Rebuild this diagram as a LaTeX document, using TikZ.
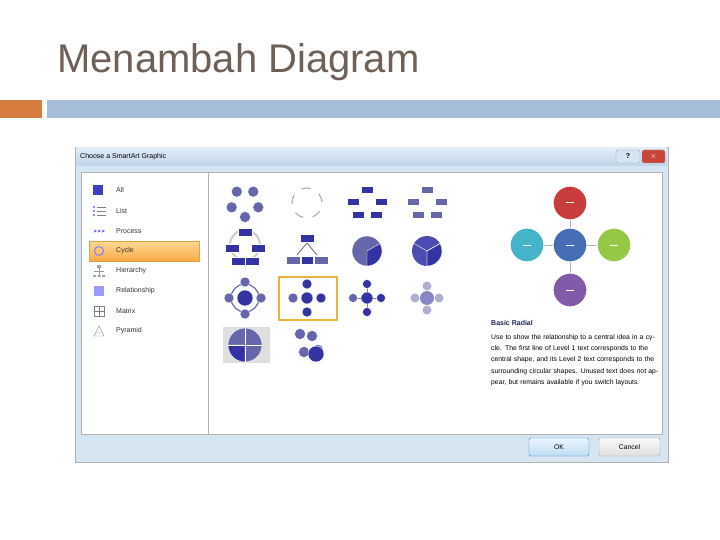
\documentclass[tikz,border=0pt]{standalone}
\usepackage{fontspec}
\setmainfont{Liberation Sans}
\definecolor{ttl}{RGB}{110,96,86}
\definecolor{orng}{RGB}{214,124,62}
\definecolor{bbar}{RGB}{166,190,215}
\definecolor{dlg}{RGB}{214,229,242}
\definecolor{tbtop}{RGB}{225,236,247}
\definecolor{tbbot}{RGB}{190,212,235}
\definecolor{qbtn}{RGB}{215,228,242}
\definecolor{xbtn}{RGB}{200,70,55}
\definecolor{seltop}{RGB}{253,218,150}
\definecolor{selbot}{RGB}{250,170,70}
\definecolor{selbd}{RGB}{230,160,60}
\definecolor{gsel}{RGB}{240,180,60}
\definecolor{cred}{RGB}{200,60,60}
\definecolor{cteal}{RGB}{70,180,200}
\definecolor{cgreen}{RGB}{150,200,70}
\definecolor{cpurp}{RGB}{130,90,170}
\definecolor{cblue}{RGB}{70,110,180}
\definecolor{dhead}{RGB}{30,40,90}
\definecolor{oktop}{RGB}{235,244,252}
\definecolor{okbot}{RGB}{190,220,242}
\definecolor{okbd}{RGB}{60,130,190}
\begin{document}
\begin{tikzpicture}[x=1pt,y=-1pt,
  cat/.style={anchor=west,font=\fontsize{7}{8}\selectfont,text=black!80,inner sep=0},
  desc/.style={anchor=north west,font=\fontsize{6.8}{11.3}\selectfont,align=left,text width=170,inner sep=0},
  tb/.style={fill=blue!45!black!60!white,draw=white,line width=0.4},
  tbd/.style={fill=blue!55!black!80,draw=white,line width=0.4},
  pc/.style={circle,minimum size=34,draw=white,line width=1.2,inner sep=0},
  btn/.style={draw=gray!70,rounded corners=2}]
\useasboundingbox (0,0) rectangle (720,540);
\fill[white] (0,0) rectangle (720,540);
\node[anchor=base west,inner sep=0,text=ttl,font=\fontsize{40}{44}\selectfont] (title) at (57,73) {Menambah Diagram};
\fill[orng] (0,100) rectangle (42,118);
\fill[bbar] (47,100) rectangle (720,118);
% dialog
\draw[gray!60,fill=dlg] (75,147) rectangle (668,462);
\shade[top color=tbtop,bottom color=tbbot] (76,148) rectangle (667,166);
\node[anchor=west,inner sep=0,font=\fontsize{7}{8}\selectfont] (dt) at (80,157) {Choose a SmartArt Graphic};
\draw[gray!70,fill=qbtn,rounded corners=2] (616,150) rectangle (640,163);
\node[font=\bfseries\fontsize{7}{8}\selectfont] (q) at (628,156.5) {?};
\draw[gray!70,fill=xbtn,rounded corners=2] (642,150) rectangle (665,163);
\node[text=white,font=\bfseries\fontsize{8}{8}\selectfont] (x) at (653.5,156.5) {$\times$};
\draw[gray!60,fill=white] (81,172) rectangle (662,434);
\draw[gray!60] (208,172) -- (208,434);
% categories
\shade[top color=seltop,bottom color=selbot] (89,241) rectangle (199,261);
\draw[selbd] (89,241) rectangle (199,261);
\foreach \t/\y in {All/190,List/211,Process/231,Cycle/251,Hierarchy/271,Relationship/291,Matrix/311,Pyramid/331}
  \node[cat] (c\t) at (116,\y) {\t};
\fill[blue!50!gray] (93,185) rectangle (103,195);
\foreach \yy in {207,211,215} {\fill[blue!60] (94,\yy) circle (1.2); \draw[gray] (97,\yy) -- (106,\yy);}
\foreach \xx in {94,98,102} \draw[blue!60,->,>=stealth] (\xx,231) -- (\xx+3,231);
\draw[blue!50,line width=1] (99,251) circle (4.5);
\draw[gray!80] (99,266) -- (99,276) (94,271) -- (104,271);
\fill[gray!70] (93,275) rectangle (96,277) (97.5,275) rectangle (100.5,277) (102,275) rectangle (105,277) (97,265) rectangle (101,268);
\fill[blue!40] (94,286) rectangle (104,296);
\draw[gray] (94,306) rectangle (104,316) (99,306) -- (99,316) (94,311) -- (104,311);
\draw[gray] (94,336) -- (99,326) -- (104,336) -- cycle (95.5,333) -- (102.5,333);
% gallery row1
\foreach \a in {90,162,234,306,18} \fill[tb] (245,203)++(\a:14) circle (5.5);
\foreach \a in {90,162,234,306,18} \draw[gray!60,line width=1.2] (307,203)++(\a+15:15) arc (\a+15:\a+50:15);
\foreach \p in {(367,190),(353,202),(381,202),(358,215),(376,215)} \fill[tbd] \p ++(-6,-3.5) rectangle ++(12,7);
\foreach \p in {(427,190),(413,202),(441,202),(418,215),(436,215)} \fill[tb] \p ++(-6,-3.5) rectangle ++(12,7);
% row2
\draw[gray!40,line width=2] (245,245) circle (15);
\foreach \p in {(245,232),(232,248),(258,248),(238,261),(252,261)} \fill[tbd] \p ++(-7,-4) rectangle ++(14,8);
\draw[gray,line width=1] (307,243) -- (297,255) (307,243) -- (317,255);
\fill[tbd] (300,234) rectangle (314,242);
\fill[tb] (286,256) rectangle (300,264) (314,256) rectangle (328,264);
\fill[tbd] (301,256) rectangle (313,264);
\fill[tb] (367,251) circle (15);
\fill[tbd] (367,251) -- ++(90:15) arc (90:-30:15) -- cycle;
\fill[blue!40!gray] (427,251) circle (15);
\fill[tbd] (427,251) -- ++(90:15) arc (90:-30:15) -- cycle;
\draw[white] (427,251) -- ++(90:15) (427,251) -- ++(-30:15) (427,251) -- ++(210:15);
% row3
\draw[blue!45!black!60!white,line width=1.2] (245,298) circle (14);
\fill[tbd] (245,298) circle (8);
\foreach \a in {0,90,180,270} \fill[tb] (245,298)++(\a:16) circle (5);
\draw[gsel,line width=1.5] (279,277) rectangle (337,320);
\fill[tbd] (307,298) circle (6);
\foreach \a in {90,0,270} \fill[tbd] (307,298)++(\a:14) circle (5);
\fill[tb] (293,298) circle (5);
\draw[gray] (353,298) -- (381,298) (367,284) -- (367,312);
\fill[tbd] (367,298) circle (6);
\foreach \a in {90,0,270} \fill[tbd] (367,298)++(\a:14) circle (4.5);
\fill[tb] (353,298) circle (4.5);
\foreach \a in {0,90,180,270} \fill[blue!25!gray!50] (427,298)++(\a:12) circle (4.5);
\fill[blue!35!gray!70] (427,298) circle (7);
% row4
\fill[gray!25] (223,327) rectangle (270,363);
\fill[tb] (245,345) circle (17);
\fill[tbd] (245,345) -- ++(90:17) arc (90:180:17) -- cycle;
\draw[white] (228,345) -- (262,345) (245,328) -- (245,362);
\foreach \p in {(300,334),(304,352),(318,350),(312,336)} \fill[tb] \p circle (5.5);
\fill[tbd] (316,354) circle (8);
% preview
\draw[gray!60,line width=1] (527,245) -- (614,245) (570,203) -- (570,290);
\node[pc,fill=cred] (pt) at (570,203) {};
\node[pc,fill=cteal] (pl) at (527,245) {};
\node[pc,fill=cgreen] (pr) at (614,245) {};
\node[pc,fill=cpurp] (pb) at (570,290) {};
\node[pc,fill=cblue] (pc0) at (570,245) {};
\foreach \n in {pt,pl,pr,pb,pc0} \draw[white,line width=1] (\n.center) ++(-4,0) -- ++(8,0);
\node[anchor=west,inner sep=0,font=\bfseries\fontsize{7}{8}\selectfont,text=dhead] (dh) at (491,323) {Basic Radial};
\node[desc] (dd) at (491,334) {Use to show the relationship to a central idea in a cycle. The first line of Level 1 text corresponds to the central shape, and its Level 2 text corresponds to the surrounding circular shapes. Unused text does not appear, but remains available if you switch layouts.};
% buttons
\shadedraw[btn,top color=oktop,bottom color=okbot,draw=okbd] (529,438) rectangle (589,456);
\node[font=\fontsize{6.8}{8}\selectfont] (ok) at (559,447) {OK};
\shadedraw[btn,top color=gray!5,bottom color=gray!25] (599,438) rectangle (660,456);
\node[font=\fontsize{6.8}{8}\selectfont] (cn) at (629.5,447) {Cancel};
\end{tikzpicture}
\end{document}
